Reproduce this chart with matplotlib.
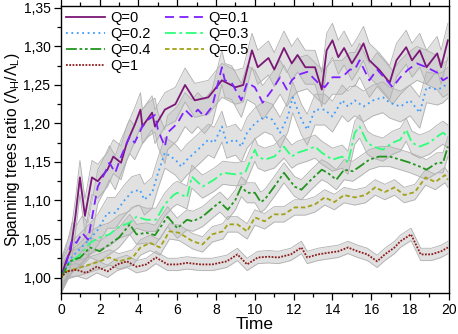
import matplotlib
matplotlib.use("Agg")
import matplotlib.pyplot as plt
from matplotlib.ticker import MultipleLocator, FuncFormatter
import numpy as np

plt.rcParams['font.family'] = ['Liberation Sans', 'DejaVu Sans']
plt.rcParams['mathtext.fontset'] = 'custom'
plt.rcParams['mathtext.rm'] = 'Liberation Sans'

labels = ["Q=0", "Q=0.1", "Q=0.2", "Q=0.3", "Q=0.4", "Q=0.5", "Q=1"]

t_q0 = [0, 0.25, 0.5, 0.75, 0.98, 1.24, 1.6, 1.9, 2.16, 2.4, 2.7, 3.1, 3.4, 3.8, 4.1, 4.2, 4.7, 4.85,
        5.36, 5.9, 6.4, 6.9, 7.6, 8.3, 9.0, 9.4, 9.85, 10.15, 10.7, 11.0, 11.5, 11.9, 12.2, 12.6, 13.1,
        13.45, 13.7, 14.0, 14.3, 14.6, 15.0, 15.3, 15.6, 15.9, 16.4, 16.95, 17.3, 17.8, 18.1, 18.5,
        18.85, 19.4, 19.6, 19.95]
v_q0 = [1.00, 1.02, 1.035, 1.08, 1.13, 1.08, 1.13, 1.125, 1.133, 1.14, 1.157, 1.149, 1.175, 1.198,
        1.218, 1.196, 1.214, 1.196, 1.218, 1.225, 1.25, 1.23, 1.234, 1.256, 1.247, 1.25, 1.295, 1.273,
        1.285, 1.27, 1.298, 1.278, 1.289, 1.273, 1.273, 1.244, 1.295, 1.308, 1.286, 1.298, 1.278, 1.29,
        1.304, 1.282, 1.27, 1.253, 1.282, 1.299, 1.282, 1.295, 1.273, 1.291, 1.273, 1.308]

t_q01 = [0, 0.25, 0.57, 0.8, 1.1, 1.4, 1.65, 1.9, 2.27, 2.5, 2.8, 3.1, 3.55, 3.8, 4.2, 4.5, 4.85, 5.0,
         5.36, 5.5, 6.0, 6.4, 6.75, 7.06, 7.4, 7.8, 8.3, 8.45, 8.8, 9.3, 9.6, 10.0, 10.4, 10.9, 11.3,
         11.65, 11.9, 12.2, 12.7, 13.25, 13.6, 14.0, 14.5, 14.9, 15.15, 15.4, 15.9, 16.3, 16.8, 17.1,
         17.5, 17.9, 18.35, 18.85, 19.4, 19.7, 19.95]
v_q01 = [1.00, 1.015, 1.049, 1.045, 1.058, 1.049, 1.084, 1.118, 1.136, 1.149, 1.136, 1.157, 1.183,
         1.175, 1.196, 1.205, 1.211, 1.192, 1.17, 1.188, 1.2, 1.218, 1.209, 1.218, 1.209, 1.222, 1.273,
         1.256, 1.253, 1.23, 1.253, 1.247, 1.227, 1.244, 1.26, 1.244, 1.256, 1.263, 1.267, 1.253, 1.247,
         1.26, 1.26, 1.27, 1.27, 1.282, 1.256, 1.27, 1.256, 1.247, 1.26, 1.27, 1.278, 1.273, 1.266,
         1.256, 1.26]

t_q02 = [0, 0.25, 0.57, 1.1, 1.6, 1.9, 2.4, 2.8, 3.3, 3.66, 4.07, 4.3, 4.7, 5.0, 5.36, 5.9, 6.2, 6.5,
         7.06, 7.6, 7.9, 8.3, 8.55, 9.0, 9.3, 9.6, 10.0, 10.5, 10.9, 11.3, 11.7, 11.95, 12.4, 12.7, 13.1,
         13.6, 14.0, 14.5, 14.8, 15.15, 15.6, 16.1, 16.6, 16.95, 17.5, 18.0, 18.5, 18.85, 19.4, 19.7,
         19.95]
v_q02 = [1.00, 1.012, 1.027, 1.04, 1.053, 1.062, 1.084, 1.084, 1.101, 1.111, 1.114, 1.101, 1.11,
         1.135, 1.162, 1.153, 1.144, 1.153, 1.166, 1.179, 1.175, 1.196, 1.175, 1.179, 1.17, 1.188, 1.2,
         1.209, 1.205, 1.188, 1.209, 1.234, 1.205, 1.192, 1.218, 1.218, 1.209, 1.23, 1.222, 1.23, 1.222,
         1.23, 1.234, 1.227, 1.222, 1.23, 1.214, 1.247, 1.244, 1.247, 1.253]

t_q03 = [0, 0.5, 1.0, 1.5, 2.0, 2.5, 3.0, 3.55, 3.9, 4.4, 4.9, 5.36, 5.8, 6.0, 6.5, 6.75, 7.3, 7.9,
         8.35, 9.0, 9.5, 10.0, 10.15, 10.5, 11.0, 11.5, 11.9, 12.2, 12.7, 13.1, 13.45, 14.0, 14.5, 14.8,
         15.15, 15.4, 15.8, 16.1, 16.6, 17.1, 17.5, 17.8, 18.1, 18.5, 19.0, 19.4, 19.7, 19.95]
v_q03 = [1.00, 1.02, 1.03, 1.045, 1.052, 1.056, 1.066, 1.071, 1.079, 1.075, 1.075, 1.095, 1.107, 1.11,
         1.104, 1.131, 1.118, 1.127, 1.136, 1.134, 1.136, 1.166, 1.157, 1.153, 1.157, 1.17, 1.157, 1.162,
         1.166, 1.17, 1.162, 1.153, 1.157, 1.149, 1.188, 1.196, 1.175, 1.17, 1.166, 1.175, 1.179, 1.192,
         1.175, 1.17, 1.175, 1.183, 1.188, 1.183]

t_q04 = [0, 0.46, 1.0, 1.5, 2.0, 2.5, 3.0, 3.55, 3.9, 4.4, 4.85, 5.5, 6.0, 6.5, 6.8, 7.3, 7.9, 8.2,
         8.6, 9.0, 9.3, 9.6, 10.0, 10.3, 10.5, 11.0, 11.5, 12.05, 12.4, 12.9, 13.45, 13.75, 14.2, 14.6,
         15.05, 15.4, 15.9, 16.4, 16.95, 17.5, 18.0, 18.5, 18.85, 19.4, 19.7, 19.95]
v_q04 = [1.00, 1.021, 1.026, 1.039, 1.034, 1.043, 1.052, 1.069, 1.056, 1.058, 1.055, 1.079, 1.064,
         1.075, 1.073, 1.079, 1.092, 1.098, 1.088, 1.101, 1.118, 1.11, 1.11, 1.098, 1.101, 1.118, 1.136,
         1.118, 1.114, 1.127, 1.14, 1.136, 1.127, 1.14, 1.138, 1.144, 1.153, 1.157, 1.157, 1.153, 1.149,
         1.144, 1.14, 1.149, 1.149, 1.17]

t_q05 = [0, 0.3, 1.0, 1.5, 2.0, 2.5, 3.0, 3.7, 4.1, 4.6, 5.1, 5.6, 6.1, 6.8, 7.3, 7.8, 8.35, 8.6, 9.1,
         9.6, 10.0, 10.5, 11.0, 11.5, 12.05, 12.6, 13.1, 13.6, 14.1, 14.6, 15.15, 15.7, 16.2, 16.7, 17.2,
         17.7, 18.25, 18.8, 19.3, 19.8, 19.95]
v_q05 = [1.00, 1.008, 1.013, 1.017, 1.021, 1.026, 1.021, 1.026, 1.039, 1.045, 1.039, 1.06, 1.058,
         1.047, 1.043, 1.056, 1.06, 1.069, 1.069, 1.06, 1.078, 1.073, 1.082, 1.082, 1.091, 1.091, 1.095,
         1.104, 1.098, 1.107, 1.104, 1.107, 1.117, 1.111, 1.117, 1.107, 1.111, 1.13, 1.124, 1.133, 1.127]

t_q1 = [0, 0.3, 0.8, 1.3, 1.85, 2.4, 2.9, 3.4, 3.9, 4.4, 4.9, 5.5, 6.0, 6.5, 7.2, 7.8, 8.55, 9.1, 9.6,
        10.15, 10.7, 11.2, 11.85, 12.4, 12.7, 13.25, 13.75, 14.3, 14.8, 15.3, 15.8, 16.3, 16.7, 17.2,
        17.5, 18.05, 18.55, 19.1, 19.6, 19.95]
v_q1 = [1.00, 1.008, 1.01, 1.006, 1.014, 1.008, 1.017, 1.021, 1.014, 1.017, 1.026, 1.017, 1.017,
        1.019, 1.017, 1.017, 1.021, 1.03, 1.017, 1.026, 1.027, 1.026, 1.03, 1.039, 1.026, 1.03, 1.032,
        1.034, 1.039, 1.034, 1.03, 1.021, 1.03, 1.039, 1.047, 1.056, 1.03, 1.03, 1.034, 1.039]

band_half = [0.022, 0.022, 0.02, 0.015, 0.013, 0.01, 0.008]

series_t = [t_q0, t_q01, t_q02, t_q03, t_q04, t_q05, t_q1]
series_v = [v_q0, v_q01, v_q02, v_q03, v_q04, v_q05, v_q1]
colors = ["#7a1777", "#7f1fff", "#3b9cff", "#2cff7a", "#23951f", "#a3a21a", "#8c1c1c"]
styles = ["-", (0, (5, 3)), (0, (1, 2)), (0, (6, 2, 1.5, 2)), (0, (6, 1.5, 1.5, 1.5, 1.5, 1.5)),
          (0, (2.5, 1.5)), (0, (1, 0.8))]

fig = plt.figure(figsize=(4.58, 3.34), dpi=100)
ax = fig.add_axes([0.133, 0.123, 0.847, 0.859])

for t, v, w in zip(series_t, series_v, band_half):
    t = np.array(t); v = np.array(v)
    ax.fill_between(t, v - w, v + w, color="#c4c4c4", alpha=0.5, lw=0)
    ax.plot(t, v - w, color="#b0b0b0", lw=0.6)
    ax.plot(t, v + w, color="#b0b0b0", lw=0.6)

handles = []
for t, v, c, ls, lab in zip(series_t, series_v, colors, styles, labels):
    h, = ax.plot(t, v, color=c, ls=ls, lw=1.3, label=lab)
    handles.append(h)

ax.set_xlim(0, 20)
ax.set_ylim(0.98, 1.3525)
ax.xaxis.set_major_locator(MultipleLocator(2))
ax.xaxis.set_minor_locator(MultipleLocator(1))
ax.yaxis.set_major_locator(MultipleLocator(0.05))
ax.yaxis.set_minor_locator(MultipleLocator(0.025))
ax.yaxis.set_major_formatter(FuncFormatter(lambda y, p: f"{y:.2f}".replace(".", ",")))
ax.tick_params(which="both", direction="out", top=True, right=False, labelsize=10, width=0.9)
ax.tick_params(which="major", length=5, pad=2.5)
ax.tick_params(which="minor", length=3)
for s in ax.spines.values():
    s.set_linewidth(1.0)

ax.set_xlabel("Time", fontsize=12.5, labelpad=0)
ax.set_ylabel(r"Spanning trees ratio ($\mathrm{\Lambda_H/\Lambda_L}$)", fontsize=11.2)
ax.yaxis.set_label_coords(-0.1, 0.5)

order = [0, 2, 4, 6, 1, 3, 5]
ax.legend([handles[i] for i in order], [labels[i] for i in order], ncol=2, frameon=False,
          loc="upper left", fontsize=10.5, handlelength=2.7, handletextpad=0.3, columnspacing=1.0,
          labelspacing=0.14, borderaxespad=0.15, borderpad=0.2)

fig.savefig("out.png", dpi=100)
